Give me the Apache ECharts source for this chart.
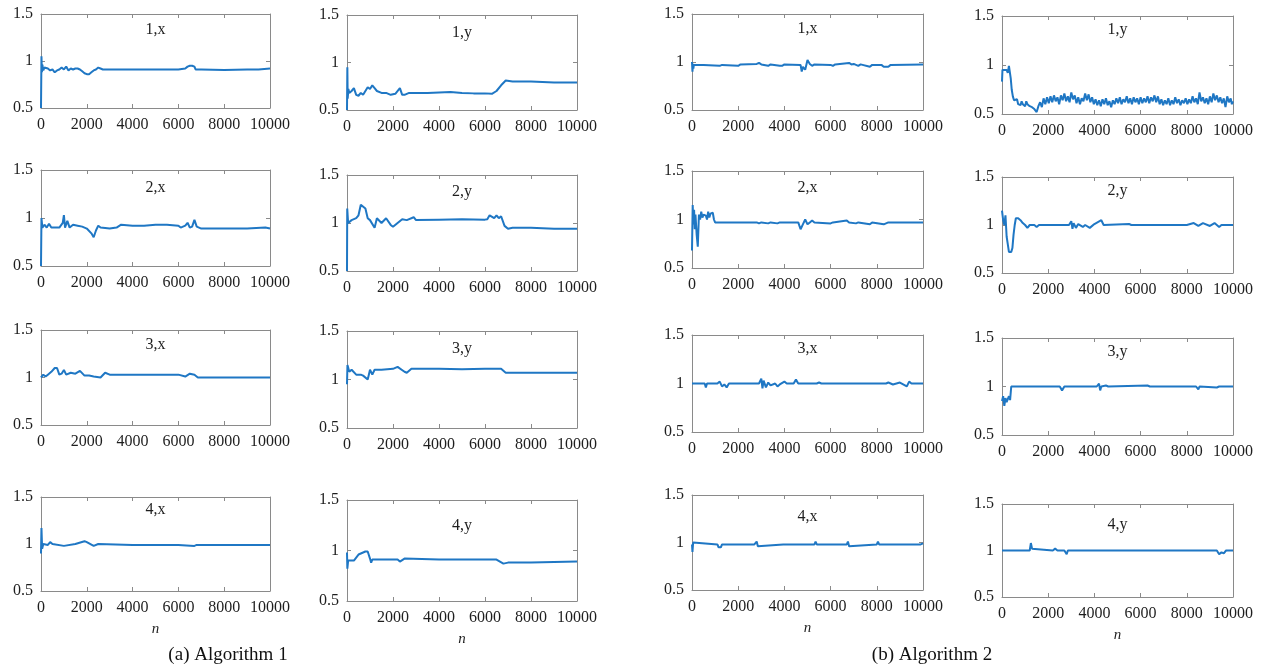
<!DOCTYPE html>
<html>
<head>
<meta charset="utf-8">
<script src="https://cdn.jsdelivr.net/npm/echarts/dist/echarts.min.js"></script>
<style>
  html, body { margin: 0; padding: 0; background: #ffffff; }
  #chart { width: 1268px; height: 672px; }
</style>
</head>
<body>
<div id="chart"></div>
<script>
// Normalised estimates per coordinate over n = 0 … 10000, as [n, value] pairs.

// (a) Algorithm 1
const alg1_1x = [[0,0.5],[20,1.05],[40,0.88],[60,0.96],[100,0.9],[150,0.93],[200,0.91],[300,0.92],[400,0.9],[500,0.91],[600,0.88],[700,0.9],[800,0.91],[900,0.93],[1000,0.91],[1100,0.94],[1200,0.9],[1300,0.92],[1400,0.91],[1500,0.92],[1600,0.92],[1700,0.91],[1800,0.89],[1900,0.87],[2000,0.86],[2100,0.86],[2200,0.88],[2300,0.9],[2400,0.91],[2500,0.93],[2600,0.92],[2700,0.91],[3000,0.91],[3500,0.91],[4000,0.91],[4500,0.91],[5000,0.91],[5500,0.91],[6000,0.91],[6300,0.92],[6400,0.94],[6500,0.95],[6600,0.95],[6700,0.94],[6750,0.91],[7000,0.91],[8000,0.905],[9000,0.91],[9500,0.91],[10000,0.92]];
const alg1_1y = [[0,0.5],[15,0.95],[30,0.62],[60,0.72],[100,0.68],[200,0.7],[300,0.73],[400,0.66],[500,0.65],[600,0.68],[700,0.66],[800,0.7],[900,0.74],[1000,0.72],[1100,0.76],[1200,0.73],[1300,0.7],[1500,0.68],[1700,0.68],[1900,0.66],[2100,0.67],[2300,0.73],[2400,0.66],[2500,0.66],[2700,0.68],[3000,0.68],[3500,0.68],[4000,0.685],[4500,0.69],[5000,0.68],[5500,0.675],[6000,0.675],[6300,0.67],[6500,0.7],[6700,0.76],[6900,0.81],[7200,0.8],[8000,0.8],[9000,0.79],[10000,0.79]];
const alg1_2x = [[0,0.5],[20,1.0],[60,0.9],[150,0.93],[250,0.9],[350,0.94],[450,0.9],[600,0.9],[800,0.9],[950,0.95],[1000,1.03],[1050,0.9],[1150,0.97],[1250,0.9],[1400,0.93],[1600,0.92],[1800,0.91],[2000,0.89],[2200,0.84],[2300,0.8],[2400,0.87],[2500,0.92],[2600,0.9],[3000,0.89],[3300,0.9],[3500,0.93],[4000,0.92],[4500,0.92],[5000,0.93],[5500,0.93],[6000,0.92],[6100,0.9],[6300,0.92],[6400,0.95],[6500,0.9],[6600,0.91],[6700,0.98],[6800,0.91],[7000,0.89],[8000,0.89],[9000,0.89],[9800,0.9],[10000,0.89]];
const alg1_2y = [[0,0.5],[10,1.15],[50,1.0],[200,1.03],[400,1.05],[500,1.08],[600,1.19],[800,1.15],[900,1.05],[1000,1.03],[1200,0.95],[1300,1.05],[1500,1.0],[1700,1.05],[1900,0.98],[2000,0.96],[2200,1.0],[2400,1.04],[2600,1.03],[2900,1.06],[3000,1.03],[4000,1.035],[5000,1.04],[6000,1.035],[6100,1.04],[6200,1.08],[6400,1.05],[6500,1.08],[6600,1.05],[6700,1.07],[6850,0.97],[7000,0.94],[7200,0.95],[8000,0.95],[9000,0.94],[10000,0.94]];
const alg1_3x = [[0,1.0],[100,1.03],[200,1.01],[300,1.03],[450,1.06],[600,1.1],[700,1.1],[800,1.03],[900,1.04],[1000,1.08],[1100,1.03],[1300,1.05],[1500,1.04],[1700,1.07],[1900,1.02],[2100,1.02],[2300,1.01],[2600,1.0],[2800,1.05],[3000,1.03],[4000,1.03],[5000,1.03],[6000,1.03],[6300,1.01],[6500,1.04],[6700,1.03],[6850,1.0],[8000,1.0],[9000,1.0],[10000,1.0]];
const alg1_3y = [[0,0.95],[20,1.15],[100,1.08],[200,1.1],[400,1.05],[600,1.05],[700,1.04],[900,1.0],[950,1.05],[1000,1.1],[1100,1.05],[1200,1.1],[1500,1.1],[2000,1.11],[2200,1.13],[2500,1.08],[2600,1.07],[2800,1.11],[4000,1.11],[5000,1.105],[6000,1.11],[6700,1.11],[6900,1.07],[8000,1.07],[9000,1.07],[10000,1.07]];
const alg1_4x = [[0,0.9],[20,1.17],[50,0.95],[100,1.0],[300,0.99],[400,1.02],[500,1.0],[1000,0.98],[1500,1.0],[1900,1.03],[2000,1.02],[2300,0.98],[2500,1.0],[4000,0.99],[6000,0.99],[6700,0.98],[6800,0.99],[8000,0.99],[10000,0.99]];
const alg1_4y = [[0,0.98],[15,0.82],[50,0.9],[300,0.9],[500,0.96],[800,0.99],[900,0.99],[1000,0.92],[1050,0.88],[1100,0.91],[2200,0.91],[2300,0.89],[2500,0.92],[4000,0.91],[6500,0.91],[6800,0.87],[7000,0.88],[8000,0.88],[10000,0.89]];

// (b) Algorithm 2
const alg2_1x = [[0,1.0],[20,0.9],[40,0.98],[60,0.93],[80,0.97],[500,0.97],[1200,0.96],[1300,0.97],[2000,0.96],[2100,0.975],[2800,0.98],[2900,0.99],[3000,0.975],[3300,0.96],[3400,0.975],[3800,0.96],[3900,0.96],[4000,0.975],[4700,0.97],[4750,0.9],[4800,0.95],[4900,0.92],[5000,1.02],[5100,0.98],[5200,0.96],[5300,0.975],[6000,0.97],[6100,0.96],[6200,0.975],[6800,0.99],[6900,0.975],[7000,0.98],[7200,0.96],[7300,0.975],[7700,0.95],[7800,0.97],[8200,0.97],[8300,0.95],[8500,0.95],[8600,0.97],[10000,0.975]];
const alg2_1y = [[0,0.83],[20,0.95],[100,0.95],[200,0.95],[250,0.92],[300,0.99],[330,0.97],[380,0.86],[420,0.75],[470,0.68],[520,0.64],[560,0.66],[600,0.62],[650,0.65],[700,0.6],[750,0.62],[800,0.59],[850,0.63],[900,0.6],[950,0.62],[1000,0.58],[1050,0.63],[1100,0.6],[1150,0.61],[1200,0.58],[1250,0.6],[1300,0.57],[1350,0.59],[1400,0.55],[1450,0.53],[1500,0.52],[1575,0.58],[1650,0.62],[1725,0.57],[1800,0.66],[1875,0.6],[1950,0.67],[2025,0.61],[2100,0.68],[2175,0.62],[2250,0.69],[2325,0.63],[2400,0.67],[2475,0.6],[2550,0.69],[2625,0.64],[2700,0.71],[2775,0.63],[2850,0.68],[2925,0.62],[3000,0.72],[3075,0.65],[3150,0.69],[3225,0.61],[3300,0.67],[3375,0.6],[3450,0.66],[3525,0.63],[3600,0.71],[3675,0.64],[3750,0.7],[3825,0.62],[3900,0.67],[3975,0.6],[4050,0.65],[4125,0.59],[4200,0.64],[4275,0.58],[4350,0.65],[4425,0.6],[4500,0.66],[4575,0.59],[4650,0.63],[4725,0.57],[4800,0.64],[4875,0.6],[4950,0.66],[5025,0.61],[5100,0.67],[5175,0.6],[5250,0.65],[5325,0.62],[5400,0.68],[5475,0.61],[5550,0.66],[5625,0.6],[5700,0.67],[5775,0.62],[5850,0.66],[5925,0.6],[6000,0.67],[6075,0.61],[6150,0.66],[6225,0.62],[6300,0.68],[6375,0.61],[6450,0.67],[6525,0.63],[6600,0.69],[6675,0.62],[6750,0.68],[6825,0.6],[6900,0.65],[6975,0.59],[7050,0.64],[7125,0.6],[7200,0.66],[7275,0.59],[7350,0.64],[7425,0.6],[7500,0.67],[7575,0.61],[7650,0.65],[7725,0.59],[7800,0.64],[7875,0.61],[7950,0.66],[8025,0.6],[8100,0.65],[8175,0.61],[8250,0.68],[8325,0.62],[8400,0.66],[8475,0.6],[8550,0.72],[8625,0.63],[8700,0.67],[8775,0.61],[8850,0.66],[8925,0.6],[9000,0.68],[9075,0.62],[9150,0.71],[9225,0.64],[9300,0.69],[9375,0.62],[9450,0.67],[9525,0.61],[9600,0.66],[9675,0.57],[9750,0.68],[9825,0.62],[9900,0.66],[9950,0.6],[10000,0.63]];
const alg2_2x = [[0,0.68],[30,1.15],[60,0.95],[90,1.1],[120,0.9],[150,1.05],[200,0.85],[250,0.72],[300,1.05],[350,1.0],[400,1.08],[450,1.02],[500,1.05],[600,1.04],[650,1.0],[700,1.08],[750,1.02],[800,1.06],[900,1.07],[950,1.0],[1000,0.97],[2000,0.97],[2050,0.95],[2100,0.97],[2800,0.97],[2850,0.99],[2900,0.96],[3000,0.97],[3300,0.96],[3400,0.97],[3700,0.96],[3800,0.97],[4600,0.97],[4700,0.9],[4800,0.95],[4900,1.0],[5000,0.95],[5100,0.97],[5200,0.99],[5300,0.97],[6000,0.96],[6100,0.97],[6700,0.99],[6800,0.97],[7100,0.96],[7200,0.97],[7700,0.95],[7800,0.97],[8300,0.95],[8400,0.96],[8500,0.97],[10000,0.97]];
const alg2_2y = [[0,1.15],[50,1.05],[100,1.0],[150,1.1],[200,0.88],[250,0.8],[300,0.72],[350,0.7],[400,0.72],[450,0.76],[500,0.9],[550,1.0],[600,1.07],[700,1.07],[800,1.05],[900,1.02],[1000,1.0],[1100,0.97],[1200,1.0],[1400,1.0],[1500,0.98],[1600,1.0],[2900,1.0],[3000,1.04],[3050,0.96],[3100,1.02],[3200,0.97],[3300,1.01],[3500,0.98],[3600,1.0],[3800,0.97],[4000,1.01],[4300,1.05],[4400,1.0],[5500,1.01],[5600,1.0],[6000,1.0],[6500,1.0],[7000,1.0],[8000,1.0],[8300,1.02],[8500,0.99],[8700,1.02],[9000,0.99],[9200,1.02],[9400,0.98],[9500,1.0],[10000,1.0]];
const alg2_3x = [[0,1.0],[550,1.0],[600,0.96],[650,1.0],[1100,1.0],[1200,1.02],[1300,0.97],[1400,0.99],[1500,0.96],[1600,1.0],[2900,1.0],[3000,1.05],[3050,0.95],[3100,1.03],[3200,0.96],[3300,1.01],[3400,0.98],[3600,1.0],[3700,0.97],[3800,0.99],[4000,1.02],[4100,1.0],[4400,1.0],[4500,1.04],[4600,1.0],[5400,1.0],[5500,1.01],[5600,1.0],[8400,1.0],[8500,1.01],[8700,0.99],[9000,1.01],[9300,0.97],[9400,1.02],[9500,1.0],[10000,1.0]];
const alg2_3y = [[0,0.85],[50,0.9],[100,0.8],[150,0.88],[200,0.84],[300,0.9],[350,0.86],[400,1.0],[1000,1.0],[2000,1.0],[2500,1.0],[2600,0.96],[2700,1.0],[4100,1.0],[4200,1.03],[4250,0.96],[4300,1.0],[4500,1.01],[4600,1.0],[6300,1.01],[6400,1.0],[8400,1.0],[8500,0.97],[8550,1.0],[9300,0.99],[9400,1.0],[10000,1.0]];
const alg2_4x = [[0,0.98],[20,0.9],[50,1.0],[100,0.98],[1100,0.98],[1150,0.95],[1200,0.97],[1250,0.95],[1300,0.98],[1800,0.98],[1850,0.96],[1900,0.98],[2200,0.98],[2250,0.97],[2300,0.98],[2600,0.98],[2650,0.96],[2700,0.98],[2800,1.01],[2850,0.96],[2900,0.98],[3950,0.98],[4000,0.96],[4050,0.98],[4700,0.98],[4750,1.0],[4800,0.98],[5000,0.98],[5050,1.0],[5100,0.98],[5300,0.98],[5350,1.01],[5400,0.98],[6400,0.98],[6450,0.97],[6500,0.98],[6700,0.98],[6750,1.01],[6800,0.96],[6850,0.98],[8000,0.98],[8050,1.01],[8100,0.98],[8700,0.98],[8750,0.97],[8800,0.98],[9000,0.98],[9050,0.96],[9100,0.98],[9900,0.98],[9950,1.0],[10000,0.99]];
const alg2_4y = [[0,1.0],[20,1.02],[50,1.0],[1200,1.0],[1250,1.08],[1300,1.02],[1350,1.0],[2200,1.0],[2300,1.02],[2400,1.0],[2700,1.0],[2800,0.96],[2850,1.0],[4000,1.0],[6000,1.0],[9300,1.0],[9400,0.96],[9500,0.98],[9600,0.97],[9700,1.0],[10000,1.0]];

// Panel titles, in drawing order (row by row, left to right)
const panelTitles = ['1,x', '1,y', '1,x', '1,y',
                     '2,x', '2,y', '2,x', '2,y',
                     '3,x', '3,y', '3,x', '3,y',
                     '4,x', '4,y', '4,x', '4,y'];
const panelData = [alg1_1x, alg1_1y, alg2_1x, alg2_1y,
                   alg1_2x, alg1_2y, alg2_2x, alg2_2y,
                   alg1_3x, alg1_3y, alg2_3x, alg2_3y,
                   alg1_4x, alg1_4y, alg2_4x, alg2_4y];

// Axis ranges and tick steps
const nMin = 0, nMax = 10000, nStep = 2000;
const vMin = 0.5, vMax = 1.5, vStep = 0.5;

// Captions
const captionA = '(a) Algorithm 1';
const captionB = '(b) Algorithm 2';
const xAxisName = 'n';

// Plot box of each panel: [left, top, width, height, title offset]
const boxes = [
  [41, 14, 229, 94, 16], [347, 15, 230, 95, 18], [692, 14, 231, 96, 15], [1002, 16, 231, 98, 14],
  [41, 170, 229, 96, 18], [347, 175, 230, 96, 17], [692, 171, 231, 97, 17], [1002, 177, 231, 96, 14],
  [41, 330, 229, 95, 15], [347, 331, 230, 97, 18], [692, 335, 231, 97, 14], [1002, 338, 231, 97, 14],
  [41, 497, 229, 94, 13], [347, 500, 230, 101, 26], [692, 495, 231, 95, 22], [1002, 504, 231, 93, 21]
];

const FONT = '"Liberation Serif", "Times New Roman", serif';
const FRAME = '#8a8a8a';
const LINE = '#1f77c4';
const TEXT = '#1e1e1e';

const grids = [], xAxes = [], yAxes = [], series = [], graphics = [];

boxes.forEach((b, i) => {
  const [left, top, width, height, tdy] = b;
  grids.push({ left, top, width, height, show: false, containLabel: false });

  const tick = { show: true, inside: true, length: 4, lineStyle: { color: FRAME, width: 1 } };
  const frame = { show: true, onZero: false, lineStyle: { color: FRAME, width: 1 } };

  // bottom axis with labels, top axis as plain frame with mirrored ticks
  xAxes.push({
    gridIndex: i, type: 'value', position: 'bottom', min: nMin, max: nMax, interval: nStep,
    axisLine: frame, axisTick: tick, splitLine: { show: false },
    axisLabel: { show: true, margin: 9, color: TEXT, fontFamily: FONT, fontSize: 16,
                 showMinLabel: true, showMaxLabel: true, hideOverlap: false,
                 formatter: v => String(v) }
  });
  xAxes.push({
    gridIndex: i, type: 'value', position: 'top', min: nMin, max: nMax, interval: nStep,
    axisLine: frame, axisTick: tick, splitLine: { show: false }, axisLabel: { show: false }
  });
  // left axis with labels, right axis as plain frame with mirrored ticks
  yAxes.push({
    gridIndex: i, type: 'value', position: 'left', min: vMin, max: vMax, interval: vStep,
    axisLine: frame, axisTick: tick, splitLine: { show: false },
    axisLabel: { show: true, margin: 8, color: TEXT, fontFamily: FONT, fontSize: 16,
                 showMinLabel: true, showMaxLabel: true, hideOverlap: false }
  });
  yAxes.push({
    gridIndex: i, type: 'value', position: 'right', min: vMin, max: vMax, interval: vStep,
    axisLine: frame, axisTick: tick, splitLine: { show: false }, axisLabel: { show: false }
  });

  series.push({
    type: 'line', xAxisIndex: 2 * i, yAxisIndex: 2 * i, data: panelData[i],
    showSymbol: false, symbol: 'none', clip: true, silent: true,
    lineStyle: { color: LINE, width: 2 }
  });

  graphics.push({
    type: 'text', x: left + width / 2, y: top + tdy, z: 10,
    style: { text: panelTitles[i], fill: TEXT, font: '16px ' + FONT,
             textAlign: 'center', textVerticalAlign: 'middle' }
  });

  // axis name under the bottom row
  if (i >= 12) {
    graphics.push({
      type: 'text', x: left + width / 2, y: top + height + 38, z: 10,
      style: { text: xAxisName, fill: TEXT, font: 'italic 15px ' + FONT,
               textAlign: 'center', textVerticalAlign: 'middle' }
    });
  }
});

graphics.push({
  type: 'text', x: 228, y: 655, z: 10,
  style: { text: captionA, fill: '#111', font: '19px ' + FONT, textAlign: 'center', textVerticalAlign: 'middle' }
});
graphics.push({
  type: 'text', x: 932, y: 655, z: 10,
  style: { text: captionB, fill: '#111', font: '19px ' + FONT, textAlign: 'center', textVerticalAlign: 'middle' }
});

const chart = echarts.init(document.getElementById('chart'), null, { renderer: 'canvas' });
chart.setOption({
  animation: false,
  backgroundColor: '#ffffff',
  grid: grids,
  xAxis: xAxes,
  yAxis: yAxes,
  series: series,
  graphic: { elements: graphics }
});
</script>
</body>
</html>
